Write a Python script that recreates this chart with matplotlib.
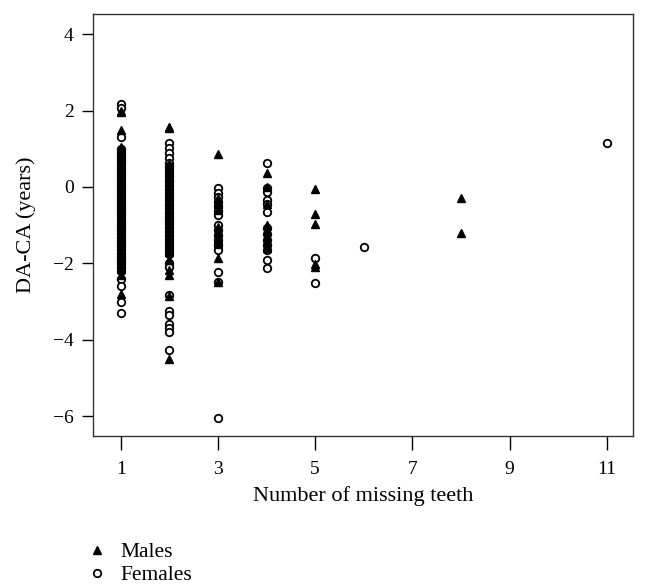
import numpy as np
import matplotlib
matplotlib.use("Agg")
import matplotlib.pyplot as plt
from matplotlib.lines import Line2D

plt.rcParams['font.family'] = ['Liberation Serif', 'DejaVu Serif']

# DA-CA (years) by number of missing teeth
males_1 = [2.0, 1.96, 1.49, 1.05, 0.97, 0.88, 0.8, 0.72, 0.63, 0.55, 0.47, 0.38, 0.3, 0.22,
           0.13, 0.05, -0.03, -0.12, -0.2, -0.28, -0.37, -0.45, -0.53, -0.62, -0.7, -0.78,
           -0.87, -0.95, -1.03, -1.12, -1.2, -1.28, -1.37, -1.45, -1.53, -1.62, -1.7, -1.78,
           -1.87, -1.95, -2.05, -2.15, -2.3, -2.8]
females_1 = [2.17, 2.07, 1.31, 1.0, 0.92, 0.84, 0.76, 0.68, 0.59, 0.51, 0.42, 0.34, 0.26,
             0.17, 0.09, 0.01, -0.08, -0.16, -0.24, -0.33, -0.41, -0.49, -0.58, -0.66, -0.74,
             -0.83, -0.91, -0.99, -1.08, -1.16, -1.24, -1.33, -1.41, -1.49, -1.58, -1.66,
             -1.74, -1.83, -1.91, -2.0, -2.1, -2.2, -2.4, -2.6, -3.0, -3.3]

males_2 = [1.57, 1.54, 0.6, 0.5, 0.4, 0.3, 0.2, 0.1, 0.0, -0.1, -0.2, -0.3, -0.4, -0.5, -0.6,
           -0.7, -0.8, -0.9, -1.0, -1.1, -1.2, -1.3, -1.4, -1.5, -1.6, -1.7, -1.91, -2.17,
           -2.3, -2.85, -4.5]
females_2 = [1.15, 1.02, 0.89, 0.75, 0.63, 0.55, 0.45, 0.35, 0.25, 0.15, 0.05, -0.05, -0.15,
             -0.25, -0.35, -0.45, -0.55, -0.65, -0.75, -0.85, -0.95, -1.05, -1.15, -1.25,
             -1.35, -1.45, -1.55, -1.65, -1.75, -2.0, -2.1, -2.83, -3.25, -3.35, -3.6, -3.7,
             -3.8, -4.27]

males_3 = [0.86, -0.3, -0.45, -0.6, -1.05, -1.2, -1.35, -1.5, -1.86, -2.49]
females_3 = [-0.03, -0.16, -0.26, -0.38, -0.5, -0.62, -0.73, -1.0, -1.12, -1.25, -1.4, -1.52,
             -1.65, -2.22, -2.5, -6.05]

males_4 = [0.37, 0.0, -0.45, -1.0, -1.15, -1.3, -1.45, -1.6]
females_4 = [0.63, -0.03, -0.13, -0.34, -0.45, -0.65, -1.08, -1.22, -1.38, -1.52, -1.65,
             -1.91, -2.12]

males_5 = [-0.05, -0.71, -0.97, -2.02, -2.1]
females_5 = [-1.86, -2.51]

females_6 = [-1.57]
males_8 = [-0.28, -1.2]
females_11 = [1.15]

male_groups = {1: males_1, 2: males_2, 3: males_3, 4: males_4, 5: males_5, 8: males_8}
female_groups = {1: females_1, 2: females_2, 3: females_3, 4: females_4, 5: females_5,
                 6: females_6, 11: females_11}

fig = plt.figure(figsize=(6.48, 5.85), dpi=100)
ax = fig.add_axes([0.1435, 0.2547, 0.8334, 0.7214])

for teeth, vals in female_groups.items():
    ax.plot([teeth] * len(vals), vals, linestyle='none', marker='o', markersize=5.4,
            markerfacecolor='white', markeredgecolor='black', markeredgewidth=1.3)
for teeth, vals in male_groups.items():
    ax.plot([teeth] * len(vals), vals, linestyle='none', marker='^', markersize=6.4,
            color='black')

ax.set_xlim(0.43, 11.54)
ax.set_ylim(-6.52, 4.53)
ax.set_xticks([1, 3, 5, 7, 9, 11])
ax.set_yticks([-6, -4, -2, 0, 2, 4])
ax.tick_params(axis='both', direction='out', length=8, width=1, labelsize=14, pad=6)
ax.tick_params(axis='x', length=10, pad=8)
for s in ax.spines.values():
    s.set_color('#333333')
    s.set_linewidth(1.0)

ax.set_xlabel('Number of missing teeth', fontsize=16, labelpad=6)
ax.set_ylabel('DA-CA (years)', fontsize=16, labelpad=12)

handles = [Line2D([], [], linestyle='none', marker='^', markersize=6.4, color='black'),
           Line2D([], [], linestyle='none', marker='o', markersize=5.4,
                  markerfacecolor='white', markeredgecolor='black', markeredgewidth=1.3)]
fig.legend(handles, ['Males', 'Females'], loc='upper left', bbox_to_anchor=(0.12, 0.088),
           frameon=False, fontsize=15.5, handlelength=1.0, handletextpad=0.6,
           labelspacing=0.15, borderaxespad=0)

fig.savefig('out.png', dpi=100)
